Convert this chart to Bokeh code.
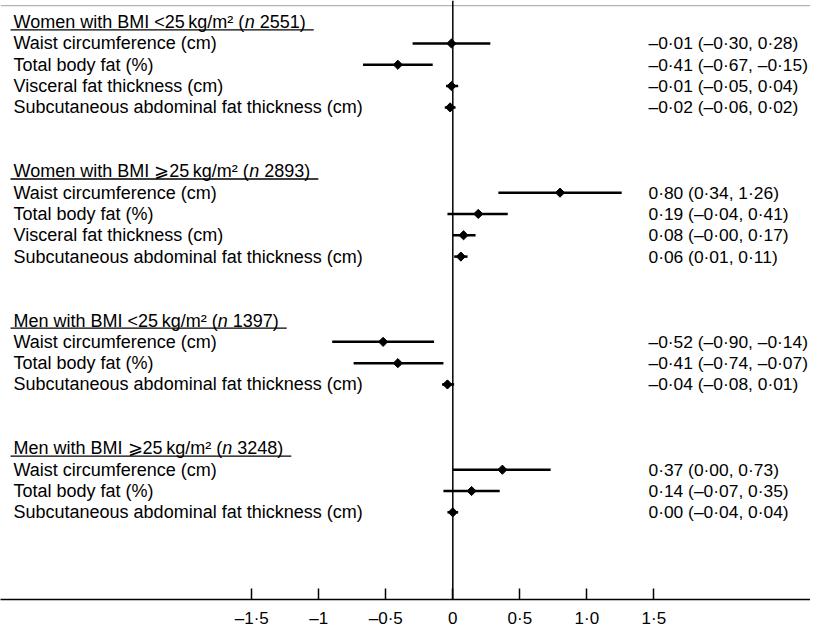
from bokeh.plotting import figure
from bokeh.models import Range1d, FixedTicker, Span, ColumnDataSource
from bokeh.core.properties import value
from bokeh.embed import file_html
from bokeh.resources import INLINE

# ---------------- data ----------------
group_titles = ["Women with BMI <25\u2009kg/m\u00b2", "Women with BMI \u2a7e25\u2009kg/m\u00b2",
                "Men with BMI <25\u2009kg/m\u00b2", "Men with BMI \u2a7e25\u2009kg/m\u00b2"]
group_n = ["2551", "2893", "1397", "3248"]

women_items = ["Waist circumference (cm)", "Total body fat (%)",
               "Visceral fat thickness (cm)", "Subcutaneous abdominal fat thickness (cm)"]
men_items = ["Waist circumference (cm)", "Total body fat (%)",
             "Subcutaneous abdominal fat thickness (cm)"]

est_women_lt25 = [-0.01, -0.41, -0.01, -0.02]
lo_women_lt25 = [-0.30, -0.67, -0.05, -0.06]
hi_women_lt25 = [0.28, -0.15, 0.04, 0.02]

est_women_ge25 = [0.80, 0.19, 0.08, 0.06]
lo_women_ge25 = [0.34, -0.04, -0.0, 0.01]
hi_women_ge25 = [1.26, 0.41, 0.17, 0.11]

est_men_lt25 = [-0.52, -0.41, -0.04]
lo_men_lt25 = [-0.90, -0.74, -0.08]
hi_men_lt25 = [-0.14, -0.07, 0.01]

est_men_ge25 = [0.37, 0.14, 0.00]
lo_men_ge25 = [0.00, -0.07, -0.04]
hi_men_ge25 = [0.73, 0.35, 0.04]

tick_values = [-1.5, -1.0, -0.5, 0.0, 0.5, 1.0, 1.5]
tick_labels = ["\u20131\u00b75", "\u20131", "\u20130\u00b75", "0", "0\u00b75", "1\u00b70", "1\u00b75"]

groups = [
    (women_items, est_women_lt25, lo_women_lt25, hi_women_lt25),
    (women_items, est_women_ge25, lo_women_ge25, hi_women_ge25),
    (men_items, est_men_lt25, lo_men_lt25, hi_men_lt25),
    (men_items, est_men_ge25, lo_men_ge25, hi_men_ge25),
]

# ---------------- helpers ----------------
FONT = "Liberation Sans"
FS = 18  # px
PX_PER_UNIT = 134.0
W = {' ': 278, 'W': 944, 'o': 556, 'm': 833, 'e': 556, 'n': 556, 'w': 722, 'i': 222,
     't': 278, 'h': 556, 'B': 667, 'M': 833, 'I': 278, '<': 584, '\u2a7e': 838,
     'k': 500, 'g': 556, '/': 278, '\u00b2': 333, '(': 333, ')': 333, '\u2009': 200}


def text_w(s):
    return sum(W.get(c, 556) for c in s) / 1000.0 * FS


def fmt(v):
    return f"{v:.2f}".replace("-", "\u2013").replace(".", "\u00b7")


LABEL_X = -3.278
VALUE_X = 1.46

# ---------------- rows ----------------
hdr = dict(y=[], a=[], b=[], c=[], ob=[], oc=[], ux0=[], ux1=[], uy=[])
rows = dict(y=[], label=[], est=[], lo=[], hi=[], txt=[])
r = 0
for gi, (items, est, lo, hi) in enumerate(groups):
    a = group_titles[gi] + " ("
    b = "n"
    c = group_n[gi] + ")"
    wa = text_w(a)
    wb = text_w(b)
    ws = text_w(" ")
    wc = text_w(c)
    hdr["y"].append(r)
    hdr["a"].append(a)
    hdr["b"].append(b)
    hdr["c"].append(c)
    hdr["ob"].append(wa)
    hdr["oc"].append(wa + wb + ws)
    hdr["ux0"].append(LABEL_X - 3 / PX_PER_UNIT)
    hdr["ux1"].append(LABEL_X + (wa + wb + ws + wc + 8) / PX_PER_UNIT)
    hdr["uy"].append(r + 0.36)
    for k, item in enumerate(items):
        rows["y"].append(r + 1 + k)
        rows["label"].append(item)
        rows["est"].append(est[k])
        rows["lo"].append(lo[k])
        rows["hi"].append(hi[k])
        rows["txt"].append(f"{fmt(est[k])} ({fmt(lo[k])}, {fmt(hi[k])})")
    r += len(items) + 3

hsrc = ColumnDataSource(hdr)
rsrc = ColumnDataSource(rows)

# ---------------- figure ----------------
p = figure(width=810, height=630,
           x_range=Range1d(-3.375, 2.669), y_range=Range1d(27.09, -1.016),
           output_backend="svg", toolbar_location=None, y_axis_location=None,
           min_border_left=0, min_border_right=0, min_border_top=0, min_border_bottom=30)
p.outline_line_color = None
p.xgrid.visible = False
p.ygrid.visible = False
p.background_fill_color = "white"
p.border_fill_color = "white"

ax = p.xaxis[0]
ax.ticker = FixedTicker(ticks=tick_values)
ax.major_label_overrides = {t: l for t, l in zip(tick_values, tick_labels)}
ax.major_tick_in = 11
ax.major_tick_out = 0
ax.minor_tick_line_color = None
ax.axis_line_width = 1.5
ax.axis_line_color = "black"
ax.major_tick_line_width = 1.5
ax.major_tick_line_color = "black"
ax.major_label_text_font = FONT
ax.major_label_text_font_size = "17px"
ax.major_label_text_color = "black"
ax.major_label_standoff = 9

# top grey rule and zero line
p.add_layout(Span(location=-0.78, dimension="width", line_color="#b4b4b4", line_width=1.3))
p.add_layout(Span(location=0, dimension="height", line_color="black", line_width=1.5))

# confidence intervals and point estimates
p.segment(x0="lo", y0="y", x1="hi", y1="y", source=rsrc, line_color="black", line_width=2.5)
p.scatter(x="est", y="y", source=rsrc, marker="square", angle=0.785398, size=6.5,
          fill_color="black", line_color="black")

# labels
common = dict(text_font=value(FONT), text_baseline="middle",
              text_align="left", text_color="black")
p.text(x=LABEL_X, y="y", text="label", source=rsrc, text_font_size=f"{FS}px", **common)
p.text(x=VALUE_X, y="y", text="txt", source=rsrc, text_font_size="17.4px", **common)

p.text(x=LABEL_X, y="y", text="a", source=hsrc, text_font_size=f"{FS}px", **common)
p.text(x=LABEL_X, y="y", text="b", x_offset="ob", source=hsrc, text_font_style="italic",
       text_font_size=f"{FS}px", **common)
p.text(x=LABEL_X, y="y", text="c", x_offset="oc", source=hsrc, text_font_size=f"{FS}px", **common)
p.segment(x0="ux0", y0="uy", x1="ux1", y1="uy", source=hsrc, line_color="black", line_width=1.3)

open("out.html", "w").write(file_html(p, INLINE))
